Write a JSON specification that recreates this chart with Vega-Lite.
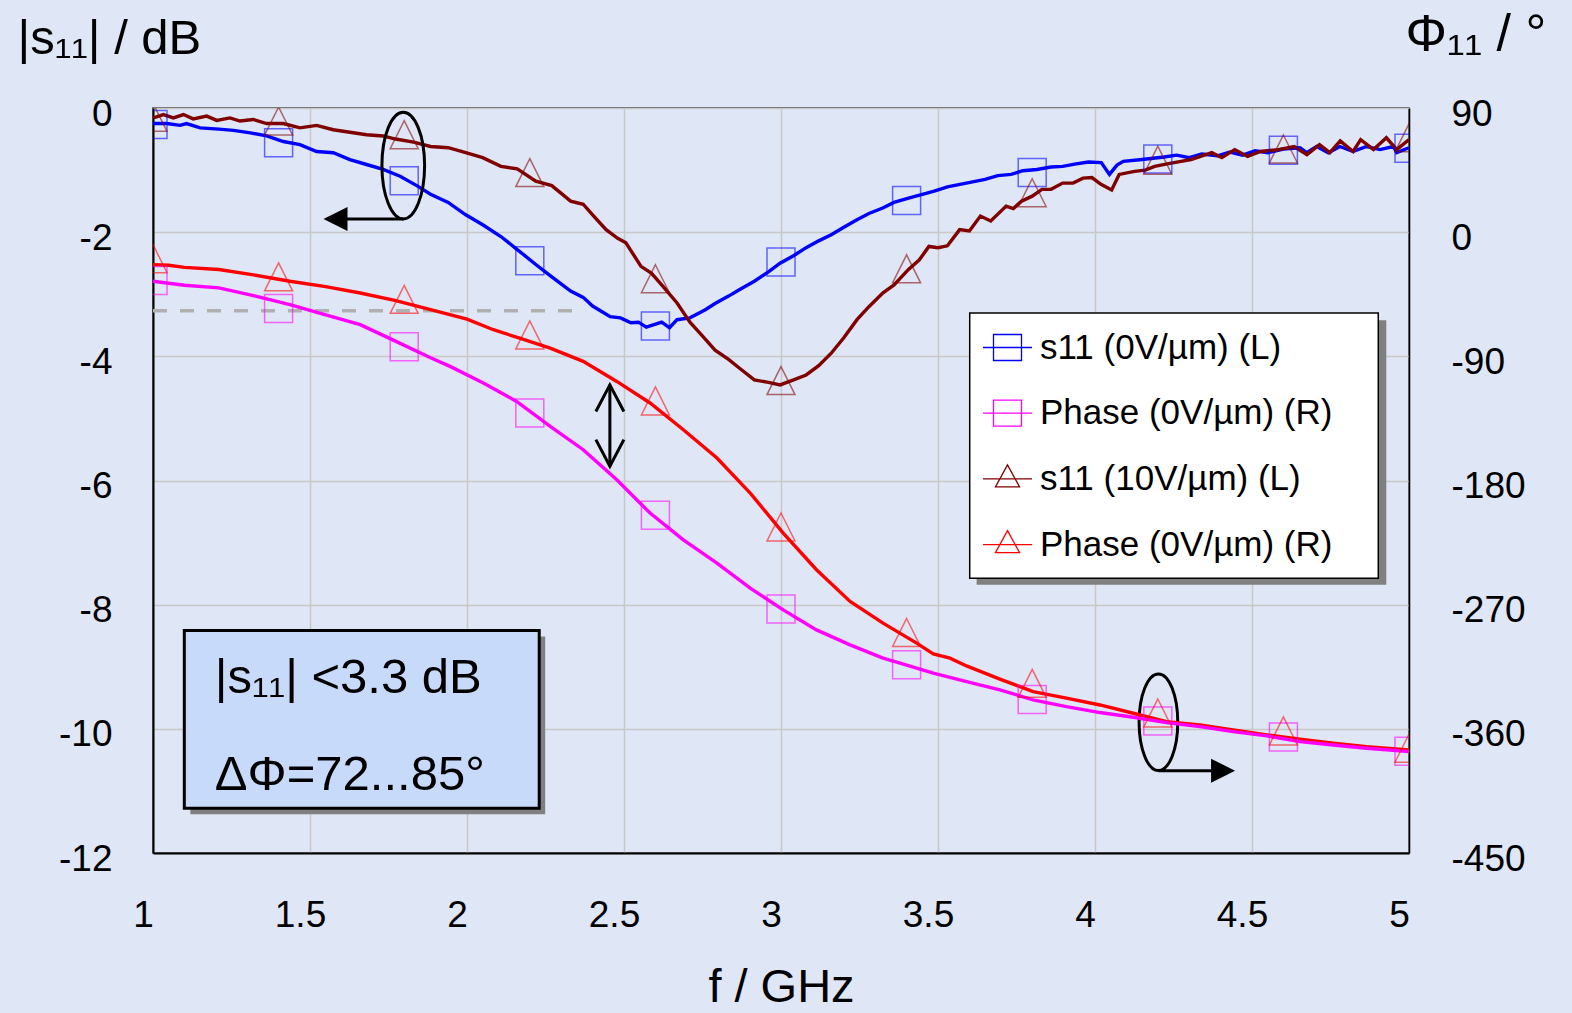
{
  "$schema": "https://vega.github.io/schema/vega-lite/v6.json",
  "width": 1256,
  "height": 745,
  "autosize": "none",
  "padding": {"left": 153, "top": 108, "right": 163, "bottom": 160},
  "background": "#dfe6f5",
  "config": {
    "view": {"fill": "#dfe6f5", "stroke": "#333333", "strokeWidth": 1.5},
    "font": "Liberation Sans"
  },
  "datasets": {
    "curves": [
      {"series":"s11_0","f":1.0,"val":-0.25},{"series":"s11_0","f":1.044,"val":-0.25},{"series":"s11_0","f":1.086,"val":-0.28},{"series":"s11_0","f":1.107,"val":-0.25},{"series":"s11_0","f":1.15,"val":-0.32},{"series":"s11_0","f":1.21,"val":-0.34},{"series":"s11_0","f":1.256,"val":-0.36},{"series":"s11_0","f":1.31,"val":-0.4},{"series":"s11_0","f":1.362,"val":-0.45},{"series":"s11_0","f":1.415,"val":-0.54},{"series":"s11_0","f":1.468,"val":-0.59},{"series":"s11_0","f":1.521,"val":-0.7},{"series":"s11_0","f":1.574,"val":-0.72},{"series":"s11_0","f":1.627,"val":-0.83},{"series":"s11_0","f":1.68,"val":-0.91},{"series":"s11_0","f":1.733,"val":-0.99},{"series":"s11_0","f":1.787,"val":-1.1},{"series":"s11_0","f":1.84,"val":-1.25},{"series":"s11_0","f":1.884,"val":-1.39},{"series":"s11_0","f":1.94,"val":-1.52},{"series":"s11_0","f":1.996,"val":-1.72},{"series":"s11_0","f":2.05,"val":-1.88},{"series":"s11_0","f":2.108,"val":-2.07},{"series":"s11_0","f":2.16,"val":-2.28},{"series":"s11_0","f":2.219,"val":-2.52},{"series":"s11_0","f":2.27,"val":-2.72},{"series":"s11_0","f":2.33,"val":-2.95},{"series":"s11_0","f":2.37,"val":-3.05},{"series":"s11_0","f":2.4,"val":-3.19},{"series":"s11_0","f":2.456,"val":-3.36},{"series":"s11_0","f":2.489,"val":-3.38},{"series":"s11_0","f":2.522,"val":-3.46},{"series":"s11_0","f":2.546,"val":-3.45},{"series":"s11_0","f":2.571,"val":-3.53},{"series":"s11_0","f":2.62,"val":-3.45},{"series":"s11_0","f":2.645,"val":-3.54},{"series":"s11_0","f":2.669,"val":-3.41},{"series":"s11_0","f":2.71,"val":-3.38},{"series":"s11_0","f":2.759,"val":-3.25},{"series":"s11_0","f":2.79,"val":-3.15},{"series":"s11_0","f":2.833,"val":-3.03},{"series":"s11_0","f":2.87,"val":-2.92},{"series":"s11_0","f":2.915,"val":-2.79},{"series":"s11_0","f":2.96,"val":-2.64},{"series":"s11_0","f":2.997,"val":-2.5},{"series":"s11_0","f":3.04,"val":-2.38},{"series":"s11_0","f":3.08,"val":-2.25},{"series":"s11_0","f":3.12,"val":-2.14},{"series":"s11_0","f":3.16,"val":-2.04},{"series":"s11_0","f":3.2,"val":-1.92},{"series":"s11_0","f":3.242,"val":-1.8},{"series":"s11_0","f":3.28,"val":-1.7},{"series":"s11_0","f":3.324,"val":-1.61},{"series":"s11_0","f":3.36,"val":-1.52},{"series":"s11_0","f":3.406,"val":-1.45},{"series":"s11_0","f":3.45,"val":-1.39},{"series":"s11_0","f":3.488,"val":-1.34},{"series":"s11_0","f":3.53,"val":-1.27},{"series":"s11_0","f":3.57,"val":-1.23},{"series":"s11_0","f":3.61,"val":-1.19},{"series":"s11_0","f":3.65,"val":-1.15},{"series":"s11_0","f":3.69,"val":-1.09},{"series":"s11_0","f":3.733,"val":-1.07},{"series":"s11_0","f":3.77,"val":-1.01},{"series":"s11_0","f":3.815,"val":-0.99},{"series":"s11_0","f":3.86,"val":-0.95},{"series":"s11_0","f":3.897,"val":-0.94},{"series":"s11_0","f":3.94,"val":-0.9},{"series":"s11_0","f":3.979,"val":-0.87},{"series":"s11_0","f":4.02,"val":-0.88},{"series":"s11_0","f":4.046,"val":-1.07},{"series":"s11_0","f":4.07,"val":-0.92},{"series":"s11_0","f":4.09,"val":-0.86},{"series":"s11_0","f":4.15,"val":-0.83},{"series":"s11_0","f":4.22,"val":-0.79},{"series":"s11_0","f":4.26,"val":-0.76},{"series":"s11_0","f":4.3,"val":-0.8},{"series":"s11_0","f":4.34,"val":-0.74},{"series":"s11_0","f":4.39,"val":-0.77},{"series":"s11_0","f":4.43,"val":-0.71},{"series":"s11_0","f":4.47,"val":-0.76},{"series":"s11_0","f":4.51,"val":-0.69},{"series":"s11_0","f":4.55,"val":-0.72},{"series":"s11_0","f":4.6,"val":-0.66},{"series":"s11_0","f":4.653,"val":-0.64},{"series":"s11_0","f":4.674,"val":-0.72},{"series":"s11_0","f":4.706,"val":-0.62},{"series":"s11_0","f":4.743,"val":-0.72},{"series":"s11_0","f":4.78,"val":-0.62},{"series":"s11_0","f":4.822,"val":-0.7},{"series":"s11_0","f":4.865,"val":-0.62},{"series":"s11_0","f":4.908,"val":-0.67},{"series":"s11_0","f":4.95,"val":-0.62},{"series":"s11_0","f":4.961,"val":-0.72},{"series":"s11_0","f":5.0,"val":-0.64},

      {"series":"s11_10","f":1.001,"val":-0.16},{"series":"s11_10","f":1.033,"val":-0.105},{"series":"s11_10","f":1.065,"val":-0.16},{"series":"s11_10","f":1.097,"val":-0.105},{"series":"s11_10","f":1.128,"val":-0.175},{"series":"s11_10","f":1.171,"val":-0.13},{"series":"s11_10","f":1.203,"val":-0.2},{"series":"s11_10","f":1.245,"val":-0.16},{"series":"s11_10","f":1.277,"val":-0.21},{"series":"s11_10","f":1.319,"val":-0.185},{"series":"s11_10","f":1.362,"val":-0.25},{"series":"s11_10","f":1.415,"val":-0.25},{"series":"s11_10","f":1.468,"val":-0.32},{"series":"s11_10","f":1.521,"val":-0.28},{"series":"s11_10","f":1.574,"val":-0.35},{"series":"s11_10","f":1.627,"val":-0.39},{"series":"s11_10","f":1.68,"val":-0.43},{"series":"s11_10","f":1.733,"val":-0.45},{"series":"s11_10","f":1.772,"val":-0.5},{"series":"s11_10","f":1.83,"val":-0.55},{"series":"s11_10","f":1.884,"val":-0.62},{"series":"s11_10","f":1.94,"val":-0.64},{"series":"s11_10","f":1.996,"val":-0.72},{"series":"s11_10","f":2.05,"val":-0.8},{"series":"s11_10","f":2.108,"val":-0.94},{"series":"s11_10","f":2.16,"val":-0.98},{"series":"s11_10","f":2.219,"val":-1.18},{"series":"s11_10","f":2.27,"val":-1.25},{"series":"s11_10","f":2.33,"val":-1.5},{"series":"s11_10","f":2.37,"val":-1.55},{"series":"s11_10","f":2.4,"val":-1.72},{"series":"s11_10","f":2.443,"val":-1.96},{"series":"s11_10","f":2.48,"val":-2.1},{"series":"s11_10","f":2.506,"val":-2.17},{"series":"s11_10","f":2.554,"val":-2.55},{"series":"s11_10","f":2.587,"val":-2.66},{"series":"s11_10","f":2.62,"val":-2.85},{"series":"s11_10","f":2.669,"val":-3.14},{"series":"s11_10","f":2.71,"val":-3.45},{"series":"s11_10","f":2.751,"val":-3.68},{"series":"s11_10","f":2.79,"val":-3.9},{"series":"s11_10","f":2.833,"val":-4.05},{"series":"s11_10","f":2.87,"val":-4.2},{"series":"s11_10","f":2.915,"val":-4.38},{"series":"s11_10","f":2.96,"val":-4.42},{"series":"s11_10","f":2.997,"val":-4.46},{"series":"s11_10","f":3.04,"val":-4.38},{"series":"s11_10","f":3.08,"val":-4.3},{"series":"s11_10","f":3.12,"val":-4.15},{"series":"s11_10","f":3.16,"val":-3.95},{"series":"s11_10","f":3.2,"val":-3.7},{"series":"s11_10","f":3.242,"val":-3.41},{"series":"s11_10","f":3.28,"val":-3.2},{"series":"s11_10","f":3.324,"val":-2.98},{"series":"s11_10","f":3.36,"val":-2.85},{"series":"s11_10","f":3.406,"val":-2.6},{"series":"s11_10","f":3.44,"val":-2.45},{"series":"s11_10","f":3.471,"val":-2.23},{"series":"s11_10","f":3.5,"val":-2.25},{"series":"s11_10","f":3.53,"val":-2.22},{"series":"s11_10","f":3.569,"val":-1.96},{"series":"s11_10","f":3.6,"val":-1.98},{"series":"s11_10","f":3.635,"val":-1.74},{"series":"s11_10","f":3.668,"val":-1.82},{"series":"s11_10","f":3.717,"val":-1.58},{"series":"s11_10","f":3.74,"val":-1.62},{"series":"s11_10","f":3.766,"val":-1.5},{"series":"s11_10","f":3.8,"val":-1.42},{"series":"s11_10","f":3.831,"val":-1.31},{"series":"s11_10","f":3.86,"val":-1.31},{"series":"s11_10","f":3.897,"val":-1.21},{"series":"s11_10","f":3.93,"val":-1.21},{"series":"s11_10","f":3.962,"val":-1.13},{"series":"s11_10","f":3.99,"val":-1.12},{"series":"s11_10","f":4.019,"val":-1.23},{"series":"s11_10","f":4.053,"val":-1.32},{"series":"s11_10","f":4.077,"val":-1.07},{"series":"s11_10","f":4.126,"val":-1.02},{"series":"s11_10","f":4.16,"val":-1.0},{"series":"s11_10","f":4.19,"val":-0.94},{"series":"s11_10","f":4.23,"val":-0.9},{"series":"s11_10","f":4.274,"val":-0.86},{"series":"s11_10","f":4.306,"val":-0.83},{"series":"s11_10","f":4.372,"val":-0.72},{"series":"s11_10","f":4.404,"val":-0.8},{"series":"s11_10","f":4.445,"val":-0.67},{"series":"s11_10","f":4.486,"val":-0.78},{"series":"s11_10","f":4.527,"val":-0.7},{"series":"s11_10","f":4.584,"val":-0.67},{"series":"s11_10","f":4.634,"val":-0.62},{"series":"s11_10","f":4.675,"val":-0.75},{"series":"s11_10","f":4.715,"val":-0.59},{"series":"s11_10","f":4.748,"val":-0.72},{"series":"s11_10","f":4.781,"val":-0.53},{"series":"s11_10","f":4.822,"val":-0.7},{"series":"s11_10","f":4.846,"val":-0.51},{"series":"s11_10","f":4.887,"val":-0.67},{"series":"s11_10","f":4.928,"val":-0.48},{"series":"s11_10","f":4.961,"val":-0.67},{"series":"s11_10","f":5.0,"val":-0.51},

      {"series":"ph_10","f":1.0,"val":-23.5},{"series":"ph_10","f":1.05,"val":-24},{"series":"ph_10","f":1.1,"val":-25.5},{"series":"ph_10","f":1.21,"val":-27.1},{"series":"ph_10","f":1.32,"val":-31},{"series":"ph_10","f":1.436,"val":-35.6},{"series":"ph_10","f":1.55,"val":-39.5},{"series":"ph_10","f":1.66,"val":-44.1},{"series":"ph_10","f":1.77,"val":-49.5},{"series":"ph_10","f":1.884,"val":-56.2},{"series":"ph_10","f":2.0,"val":-63},{"series":"ph_10","f":2.084,"val":-70.7},{"series":"ph_10","f":2.17,"val":-77},{"series":"ph_10","f":2.265,"val":-84.0},{"series":"ph_10","f":2.37,"val":-93.6},{"series":"ph_10","f":2.477,"val":-108.2},{"series":"ph_10","f":2.583,"val":-123.8},{"series":"ph_10","f":2.689,"val":-143.2},{"series":"ph_10","f":2.796,"val":-163.7},{"series":"ph_10","f":2.902,"val":-189.1},{"series":"ph_10","f":3.007,"val":-218.1},{"series":"ph_10","f":3.113,"val":-244.7},{"series":"ph_10","f":3.22,"val":-267.7},{"series":"ph_10","f":3.325,"val":-283.4},{"series":"ph_10","f":3.432,"val":-297.9},{"series":"ph_10","f":3.485,"val":-305.7},{"series":"ph_10","f":3.538,"val":-308.8},{"series":"ph_10","f":3.591,"val":-314.4},{"series":"ph_10","f":3.697,"val":-324.0},{"series":"ph_10","f":3.803,"val":-333.0},{"series":"ph_10","f":3.909,"val":-337.8},{"series":"ph_10","f":4.016,"val":-342.7},{"series":"ph_10","f":4.122,"val":-348.7},{"series":"ph_10","f":4.228,"val":-354.8},{"series":"ph_10","f":4.334,"val":-357.2},{"series":"ph_10","f":4.44,"val":-360.8},{"series":"ph_10","f":4.547,"val":-364.4},{"series":"ph_10","f":4.653,"val":-367.5},{"series":"ph_10","f":4.759,"val":-370.4},{"series":"ph_10","f":4.865,"val":-372.9},{"series":"ph_10","f":5.0,"val":-375.3},

      {"series":"ph_0","f":1.0,"val":-35.6},{"series":"ph_0","f":1.1,"val":-38.5},{"series":"ph_0","f":1.21,"val":-40.4},{"series":"ph_0","f":1.32,"val":-46},{"series":"ph_0","f":1.436,"val":-52.5},{"series":"ph_0","f":1.55,"val":-60},{"series":"ph_0","f":1.66,"val":-67},{"series":"ph_0","f":1.772,"val":-79},{"series":"ph_0","f":1.884,"val":-91},{"series":"ph_0","f":1.946,"val":-97.3},{"series":"ph_0","f":2.052,"val":-109.3},{"series":"ph_0","f":2.158,"val":-122.7},{"series":"ph_0","f":2.265,"val":-140.8},{"series":"ph_0","f":2.37,"val":-157.7},{"series":"ph_0","f":2.477,"val":-179.5},{"series":"ph_0","f":2.583,"val":-203.6},{"series":"ph_0","f":2.689,"val":-223.0},{"series":"ph_0","f":2.796,"val":-239.9},{"series":"ph_0","f":2.902,"val":-258.0},{"series":"ph_0","f":3.007,"val":-273.8},{"series":"ph_0","f":3.113,"val":-288.3},{"series":"ph_0","f":3.22,"val":-299.1},{"series":"ph_0","f":3.325,"val":-308.8},{"series":"ph_0","f":3.379,"val":-312.4},{"series":"ph_0","f":3.485,"val":-319.7},{"series":"ph_0","f":3.591,"val":-325.8},{"series":"ph_0","f":3.697,"val":-331.8},{"series":"ph_0","f":3.803,"val":-339.0},{"series":"ph_0","f":3.909,"val":-343.9},{"series":"ph_0","f":4.016,"val":-348.2},{"series":"ph_0","f":4.122,"val":-351.6},{"series":"ph_0","f":4.228,"val":-355.5},{"series":"ph_0","f":4.334,"val":-358.4},{"series":"ph_0","f":4.44,"val":-362.0},{"series":"ph_0","f":4.547,"val":-365.1},{"series":"ph_0","f":4.653,"val":-369.3},{"series":"ph_0","f":4.759,"val":-371.7},{"series":"ph_0","f":4.865,"val":-374.1},{"series":"ph_0","f":5.0,"val":-376.5}
    ],
    "markers": [
      {"series":"s11_0","f":1.0,"val":-0.266},{"series":"s11_0","f":1.4,"val":-0.56},{"series":"s11_0","f":1.8,"val":-1.17},{"series":"s11_0","f":2.2,"val":-2.46},{"series":"s11_0","f":2.6,"val":-3.51},{"series":"s11_0","f":3.0,"val":-2.48},{"series":"s11_0","f":3.4,"val":-1.49},{"series":"s11_0","f":3.8,"val":-1.04},{"series":"s11_0","f":4.2,"val":-0.82},{"series":"s11_0","f":4.6,"val":-0.68},{"series":"s11_0","f":5.0,"val":-0.65},
      {"series":"s11_10","f":1.0,"val":-0.15},{"series":"s11_10","f":1.4,"val":-0.21},{"series":"s11_10","f":1.8,"val":-0.43},{"series":"s11_10","f":2.2,"val":-1.04},{"series":"s11_10","f":2.6,"val":-2.75},{"series":"s11_10","f":3.0,"val":-4.39},{"series":"s11_10","f":3.4,"val":-2.59},{"series":"s11_10","f":3.8,"val":-1.365},{"series":"s11_10","f":4.2,"val":-0.84},{"series":"s11_10","f":4.6,"val":-0.66},{"series":"s11_10","f":5.0,"val":-0.48},
      {"series":"ph_0","f":1.0,"val":-35.0},{"series":"ph_0","f":1.4,"val":-55.3},{"series":"ph_0","f":1.8,"val":-83.1},{"series":"ph_0","f":2.2,"val":-131.1},{"series":"ph_0","f":2.6,"val":-205.2},{"series":"ph_0","f":3.0,"val":-273.2},{"series":"ph_0","f":3.4,"val":-313.6},{"series":"ph_0","f":3.8,"val":-338.8},{"series":"ph_0","f":4.2,"val":-354.4},{"series":"ph_0","f":4.6,"val":-366.0},{"series":"ph_0","f":5.0,"val":-376.2},
      {"series":"ph_10","f":1.0,"val":-19.2},{"series":"ph_10","f":1.4,"val":-32.4},{"series":"ph_10","f":1.8,"val":-48.7},{"series":"ph_10","f":2.2,"val":-74.5},{"series":"ph_10","f":2.6,"val":-122.3},{"series":"ph_10","f":3.0,"val":-213.7},{"series":"ph_10","f":3.4,"val":-290.2},{"series":"ph_10","f":3.8,"val":-327.0},{"series":"ph_10","f":4.2,"val":-348.5},{"series":"ph_10","f":4.6,"val":-361.5},{"series":"ph_10","f":5.0,"val":-374.0}
    ],
    "notes": [
      {"kind":"threshold","f":1.0,"f2":2.376,"val":-3.265},
      {"kind":"boxshadow","f":1.119,"f2":2.249,"val":-8.514,"val2":-11.377},
      {"kind":"box","f":1.0997,"f2":2.23,"val":-8.417,"val2":-11.28},
      {"kind":"label","f":1.197,"val":-9.417,"label":"|s₁₁| <3.3 dB"},
      {"kind":"label","f":1.197,"val":-10.985,"label":"ΔΦ=72...85°"},
      {"kind":"legshadow","f":3.623,"f2":4.9277,"val":-3.42,"val2":-7.68},
      {"kind":"legbox","f":3.601,"f2":4.9022,"val":-3.301,"val2":-7.573},
      {"kind":"ellipseA","f":1.797,"val":-0.927},
      {"kind":"ellipseB","f":4.202,"val":-9.894},
      {"kind":"hline","f":1.797,"f2":1.6,"val":-1.786},
      {"kind":"hline","f":4.202,"f2":4.4,"val":-10.674},
      {"kind":"headL","f":1.543,"val":-1.786},
      {"kind":"headR","f":4.446,"val":-10.674},
      {"kind":"vline","f":2.455,"val":-4.46,"val2":-5.77},
      {"kind":"headUp","f":2.455,"val":-4.46},
      {"kind":"headDown","f":2.455,"val":-5.77}
    ]
  },
  "encoding": {
    "x": {
      "field": "f", "type": "quantitative",
      "scale": {"domain": [1, 5], "nice": false, "zero": false},
      "axis": {
        "values": [1, 1.5, 2, 2.5, 3, 3.5, 4, 4.5, 5], "format": "~g",
        "title": "f / GHz", "grid": true, "gridColor": "#c8c8c8", "gridWidth": 1.5,
        "ticks": false, "tickSize": 0, "domainColor": "#000000", "domainWidth": 2,
        "labelFont": "Liberation Sans", "labelFontSize": 37, "labelColor": "#000000",
        "labelPadding": 62, "labelBaseline": "middle", "labelOffset": -10, "labelFlush": false, "labelOverlap": false,
        "titleFont": "Liberation Sans", "titleFontSize": 47, "titleFontWeight": "normal", "titleColor": "#000000",
        "titleY": 148, "titleBaseline": "alphabetic"
      }
    }
  },
  "layer": [
    {
      "encoding": {
        "y": {
          "field": "val", "type": "quantitative",
          "scale": {"domain": [-12, 0], "nice": false, "zero": false},
          "axis": {
            "orient": "left", "values": [-12, -10, -8, -6, -4, -2, 0],
            "labelExpr": "datum.value < 0 ? '-' + abs(datum.value) : '' + datum.value",
            "grid": true, "gridColor": "#c8c8c8", "gridWidth": 1.5,
            "ticks": false, "tickSize": 0, "domainColor": "#000000", "domainWidth": 2,
            "labelFont": "Liberation Sans", "labelFontSize": 37, "labelColor": "#000000",
            "labelPadding": 41, "labelOffset": 6,
            "title": "|s₁₁| / dB", "titleAngle": 0, "titleX": -136, "titleY": -55,
            "titleAlign": "left", "titleBaseline": "alphabetic",
            "titleFont": "Liberation Sans", "titleFontSize": 49, "titleFontWeight": "normal", "titleColor": "#000000"
          }
        }
      },
      "layer": [
        {
          "data": {"name": "notes"},
          "transform": [{"filter": "datum.kind === 'threshold'"}],
          "mark": {"type": "rule", "stroke": "#b0b0b0", "strokeWidth": 3.5, "strokeDash": [14, 13]},
          "encoding": {"x2": {"field": "f2"}}
        },
        {
          "data": {"name": "notes"},
          "transform": [{"filter": "datum.kind === 'boxshadow' || datum.kind === 'legshadow'"}],
          "mark": {"type": "rect", "fill": "#808080"},
          "encoding": {"x2": {"field": "f2"}, "y2": {"field": "val2"}}
        },
        {
          "data": {"name": "notes"},
          "transform": [{"filter": "datum.kind === 'box'"}],
          "mark": {"type": "rect", "fill": "#c8dafa", "stroke": "#000000", "strokeWidth": 3},
          "encoding": {"x2": {"field": "f2"}, "y2": {"field": "val2"}}
        },
        {
          "data": {"name": "notes"},
          "transform": [{"filter": "datum.kind === 'legbox'"}],
          "mark": {"type": "rect", "fill": "#ffffff", "stroke": "#000000", "strokeWidth": 1.5},
          "encoding": {"x2": {"field": "f2"}, "y2": {"field": "val2"}}
        },
        {
          "data": {"name": "notes"},
          "transform": [{"filter": "datum.kind === 'label'"}],
          "mark": {"type": "text", "align": "left", "baseline": "alphabetic", "font": "Liberation Sans", "fontSize": 49, "color": "#000000"},
          "encoding": {"text": {"field": "label"}}
        },
        {
          "data": {"name": "curves"},
          "transform": [{"filter": "datum.series === 's11_0' || datum.series === 's11_10'"}],
          "mark": {"type": "line", "strokeWidth": 3.4, "clip": true},
          "encoding": {
            "color": {"field": "series", "type": "nominal",
              "scale": {"domain": ["s11_0", "ph_0", "s11_10", "ph_10"], "range": ["#0000ff", "#ff00ff", "#800000", "#ff0000"]},
              "legend": {
                "orient": "none", "legendX": 837, "legendY": 222, "title": null, "padding": 0,
                "labelFont": "Liberation Sans", "labelFontSize": 35, "labelColor": "#000000", "labelLimit": 600,
                "labelOffset": 15, "rowPadding": 29.7, "symbolSize": 784, "symbolStrokeWidth": 1.3,
                "labelExpr": "{'s11_0': 's11 (0V/µm) (L)', 'ph_0': 'Phase (0V/µm) (R)', 's11_10': 's11 (10V/µm) (L)', 'ph_10': 'Phase (0V/µm) (R)'}[datum.value]",
                "encode": {
                  "symbols": {
                    "update": {
                      "shape": {"signal": "(datum.value === 's11_0' || datum.value === 'ph_0') ? 'M-1,-0.93H1V0.93H-1ZM-1.75,0H1.75' : 'M0,-1L0.86,0.57H-0.86ZM-1.75,0H1.75'"},
                      "fill": {"value": "transparent"},
                      "strokeWidth": {"value": 1.3},
                      "opacity": {"value": 1},
                      "strokeOpacity": {"value": 1}
                    }
                  }
                }
              }
            }
          }
        },
        {
          "data": {"name": "markers"},
          "transform": [{"filter": "datum.series === 's11_0'"}],
          "mark": {"type": "point", "filled": false, "size": 784, "strokeWidth": 1.5, "stroke": "#0000ff", "strokeOpacity": 0.8, "shape": "M-1,-1H1V1H-1Z", "clip": true}
        },
        {
          "data": {"name": "markers"},
          "transform": [{"filter": "datum.series === 's11_10'"}],
          "mark": {"type": "point", "filled": false, "size": 784, "strokeWidth": 1.5, "stroke": "#800000", "strokeOpacity": 0.8, "shape": "M0,-1L1,1H-1Z", "clip": true}
        },
        {
          "data": {"name": "notes"},
          "transform": [{"filter": "datum.kind === 'ellipseA'"}],
          "mark": {"type": "point", "filled": false, "stroke": "#000000", "strokeWidth": 3, "opacity": 1, "size": 11385, "shape": "M0,-1A0.4,1,0,1,1,0,1A0.4,1,0,1,1,0,-1Z"}
        },
        {
          "data": {"name": "notes"},
          "transform": [{"filter": "datum.kind === 'ellipseB'"}],
          "mark": {"type": "point", "filled": false, "stroke": "#000000", "strokeWidth": 3, "opacity": 1, "size": 9351, "shape": "M0,-1A0.4,1,0,1,1,0,1A0.4,1,0,1,1,0,-1Z"}
        },
        {
          "data": {"name": "notes"},
          "transform": [{"filter": "datum.kind === 'hline'"}],
          "mark": {"type": "rule", "stroke": "#000000", "strokeWidth": 3},
          "encoding": {"x2": {"field": "f2"}}
        },
        {
          "data": {"name": "notes"},
          "transform": [{"filter": "datum.kind === 'vline'"}],
          "mark": {"type": "rule", "stroke": "#000000", "strokeWidth": 3},
          "encoding": {"y2": {"field": "val2"}}
        },
        {
          "data": {"name": "notes"},
          "transform": [{"filter": "datum.kind === 'headL'"}],
          "mark": {"type": "point", "filled": true, "fill": "#000000", "opacity": 1, "size": 576, "shape": "M0,0L2,-1L2,1Z"}
        },
        {
          "data": {"name": "notes"},
          "transform": [{"filter": "datum.kind === 'headR'"}],
          "mark": {"type": "point", "filled": true, "fill": "#000000", "opacity": 1, "size": 576, "shape": "M0,0L-2,-1L-2,1Z"}
        },
        {
          "data": {"name": "notes"},
          "transform": [{"filter": "datum.kind === 'headUp'"}],
          "mark": {"type": "point", "filled": false, "stroke": "#000000", "strokeWidth": 3, "opacity": 1, "size": 784, "shape": "M-1,1.9L0,0L1,1.9"}
        },
        {
          "data": {"name": "notes"},
          "transform": [{"filter": "datum.kind === 'headDown'"}],
          "mark": {"type": "point", "filled": false, "stroke": "#000000", "strokeWidth": 3, "opacity": 1, "size": 784, "shape": "M-1,-1.9L0,0L1,-1.9"}
        }
      ]
    },
    {
      "encoding": {
        "y": {
          "field": "val", "type": "quantitative",
          "scale": {"domain": [-450, 90], "nice": false, "zero": false},
          "axis": {
            "orient": "right", "values": [-450, -360, -270, -180, -90, 0, 90],
            "labelExpr": "datum.value < 0 ? '-' + abs(datum.value) : '' + datum.value",
            "grid": false, "ticks": false, "tickSize": 0, "domainColor": "#000000", "domainWidth": 1.5,
            "labelFont": "Liberation Sans", "labelFontSize": 37, "labelColor": "#000000",
            "labelPadding": 42, "labelOffset": 6,
            "title": "Φ₁₁ / °", "titleAngle": 0, "titleX": -4, "titleY": -58,
            "titleAlign": "left", "titleBaseline": "alphabetic",
            "titleFont": "Liberation Sans", "titleFontSize": 52, "titleFontWeight": "normal", "titleColor": "#000000"
          }
        }
      },
      "layer": [
        {
          "data": {"name": "curves"},
          "transform": [{"filter": "datum.series === 'ph_0' || datum.series === 'ph_10'"}],
          "mark": {"type": "line", "strokeWidth": 3.4, "clip": true},
          "encoding": {
            "color": {"field": "series", "type": "nominal",
              "scale": {"domain": ["s11_0", "ph_0", "s11_10", "ph_10"], "range": ["#0000ff", "#ff00ff", "#800000", "#ff0000"]},
              "legend": {
                "orient": "none", "legendX": 837, "legendY": 222, "title": null, "padding": 0,
                "labelFont": "Liberation Sans", "labelFontSize": 35, "labelColor": "#000000", "labelLimit": 600,
                "labelOffset": 15, "rowPadding": 29.7, "symbolSize": 784, "symbolStrokeWidth": 1.3,
                "labelExpr": "{'s11_0': 's11 (0V/µm) (L)', 'ph_0': 'Phase (0V/µm) (R)', 's11_10': 's11 (10V/µm) (L)', 'ph_10': 'Phase (0V/µm) (R)'}[datum.value]",
                "encode": {
                  "symbols": {
                    "update": {
                      "shape": {"signal": "(datum.value === 's11_0' || datum.value === 'ph_0') ? 'M-1,-0.93H1V0.93H-1ZM-1.75,0H1.75' : 'M0,-1L0.86,0.57H-0.86ZM-1.75,0H1.75'"},
                      "fill": {"value": "transparent"},
                      "strokeWidth": {"value": 1.3},
                      "opacity": {"value": 1},
                      "strokeOpacity": {"value": 1}
                    }
                  }
                }
              }
            }
          }
        },
        {
          "data": {"name": "markers"},
          "transform": [{"filter": "datum.series === 'ph_0'"}],
          "mark": {"type": "point", "filled": false, "size": 784, "strokeWidth": 1.5, "stroke": "#ff00ff", "strokeOpacity": 0.8, "shape": "M-1,-1H1V1H-1Z", "clip": true}
        },
        {
          "data": {"name": "markers"},
          "transform": [{"filter": "datum.series === 'ph_10'"}],
          "mark": {"type": "point", "filled": false, "size": 784, "strokeWidth": 1.5, "stroke": "#ff0000", "strokeOpacity": 0.8, "shape": "M0,-1L1,1H-1Z", "clip": true}
        }
      ]
    }
  ],
  "resolve": {"scale": {"y": "independent"}}
}
